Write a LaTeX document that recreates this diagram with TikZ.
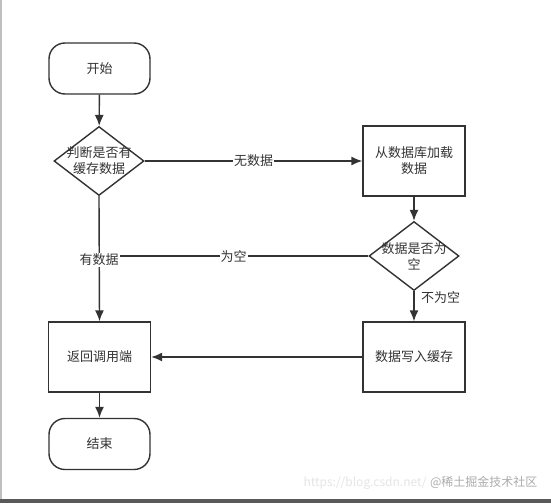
\documentclass[tikz,border=0pt]{standalone}
\usepackage{fontspec}
\setmainfont{Noto Sans CJK SC}
\usetikzlibrary{shapes.geometric,arrows.meta}
\definecolor{ink}{HTML}{333333}
\tikzset{
  terminal/.style={draw=ink, line width=1.4pt, rounded corners=16pt, minimum width=101pt, minimum height=51pt},
  process/.style={draw=ink, line width=1.4pt, minimum width=102pt, minimum height=70pt, align=center},
  decision/.style={draw=ink, line width=1.4pt, diamond, minimum width=90pt, minimum height=69pt, inner sep=0pt},
  flow/.style={>={Latex[length=11pt,width=9pt]}, ->, draw=ink, line width=1.4pt},
  edgelabel/.style={fill=white, inner sep=1pt, text=ink},
}
\begin{document}
\begin{tikzpicture}[x=1pt, y=-1pt, font=\fontsize{13}{16}\selectfont, text=ink]
\useasboundingbox (0,0) rectangle (551,503);
\fill[white] (0,0) rectangle (551,503);
\fill[gray!50] (0,0) rectangle (1.5,503);
\fill[gray!70!black] (0,499) rectangle (551,503);

\node[terminal] (start) at (99.5,68.5) {开始};
\node[decision, label={[align=center]center:判断是否有\\缓存数据}] (judge) at (99,161) {};
\node[process] (load) at (414,161) {从数据库加载\\数据};
\node[decision, label={[align=center]center:数据是否为\\空}] (check) at (414,256) {};
\node[process] (ret) at (99.5,357) {返回调用端};
\node[process] (write) at (414,357) {数据写入缓存};
\node[terminal] (stop) at (99.5,444) {结束};

\draw[flow] (start) -- (judge);
\draw[flow] (judge.east) -- node[edgelabel]{无数据} (load.west);
\draw[flow] (load) -- (check);
\coordinate (jn) at (judge.south |- check.west);
\draw[ink, line width=1.4pt] (check.west) -- node[edgelabel]{为空} (jn);
\draw[flow] (judge.south) -- (ret.north);
\node[edgelabel] (has) at (99,260) {有数据};
\draw[flow] (check) -- node[right, pos=0.2, xshift=3pt]{不为空} (write);
\draw[flow] (write) -- (ret);
\draw[flow] (ret) -- (stop);

% watermark
\node[text=gray!20, font=\fontsize{12}{14}\selectfont, anchor=west] (url) at (300,483) {https://blog.csdn.net/};
\node[text=gray!65, font=\fontsize{12}{14}\selectfont, anchor=east] (mark) at (541,482) {@稀土掘金技术社区};
\end{tikzpicture}
\end{document}
